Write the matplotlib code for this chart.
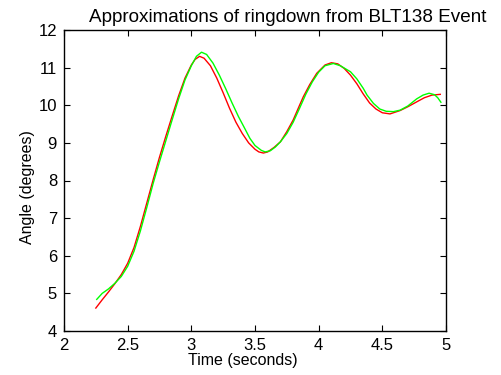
import matplotlib
matplotlib.use('Agg')
import matplotlib.pyplot as plt

plt.rcParams['font.family'] = ['Liberation Sans', 'DejaVu Sans']

# red approximation (time in s, angle in degrees)
t_red = [2.25, 2.30, 2.35, 2.40, 2.45, 2.50, 2.55, 2.60, 2.65, 2.70, 2.75, 2.80, 2.85,
         2.90, 2.95, 3.00, 3.03, 3.065, 3.10, 3.15, 3.20, 3.25, 3.30, 3.35, 3.40, 3.45,
         3.50, 3.53, 3.566, 3.60, 3.65, 3.70, 3.75, 3.80, 3.85, 3.88, 3.93, 3.985,
         4.05, 4.10, 4.15, 4.20, 4.25, 4.30, 4.35, 4.40, 4.45, 4.50, 4.56, 4.64, 4.70,
         4.77, 4.83, 4.89, 4.955]
a_red = [4.61, 4.83, 5.04, 5.26, 5.50, 5.80, 6.22, 6.78, 7.40, 8.02, 8.62, 9.18, 9.72,
         10.25, 10.72, 11.07, 11.22, 11.30, 11.25, 11.05, 10.72, 10.33, 9.92, 9.55, 9.25, 9.00,
         8.83, 8.76, 8.73, 8.76, 8.88, 9.03, 9.30, 9.61, 10.00, 10.23, 10.55, 10.85,
         11.07, 11.13, 11.10, 10.98, 10.80, 10.57, 10.30, 10.06, 9.90, 9.80, 9.77, 9.86, 9.96,
         10.09, 10.20, 10.27, 10.29]

# green approximation
t_green = [2.257, 2.30, 2.35, 2.40, 2.45, 2.50, 2.55, 2.60, 2.65, 2.70, 2.75, 2.80, 2.85,
           2.90, 2.95, 3.00, 3.04, 3.08, 3.12, 3.17, 3.22, 3.27, 3.32, 3.37, 3.42, 3.46,
           3.50, 3.55, 3.58, 3.62, 3.66, 3.70, 3.75, 3.80, 3.85, 3.90, 3.95, 4.00, 4.05,
           4.115, 4.17, 4.22, 4.25, 4.30, 4.35, 4.38, 4.43, 4.48, 4.53, 4.587, 4.64, 4.70,
           4.77, 4.82, 4.867, 4.91, 4.935, 4.96]
a_green = [4.84, 5.00, 5.12, 5.27, 5.45, 5.72, 6.12, 6.66, 7.28, 7.92, 8.50, 9.06, 9.62,
           10.17, 10.67, 11.05, 11.30, 11.41, 11.35, 11.12, 10.80, 10.44, 10.06, 9.70, 9.38, 9.12,
           8.93, 8.80, 8.76, 8.79, 8.89, 9.03, 9.25, 9.55, 9.92, 10.30, 10.62, 10.88, 11.05,
           11.11, 11.05, 10.95, 10.89, 10.70, 10.45, 10.27, 10.05, 9.90, 9.84, 9.83, 9.87, 9.98,
           10.17, 10.27, 10.32, 10.28, 10.20, 10.08]

x_ticks = [2, 2.5, 3, 3.5, 4, 4.5, 5]
x_tick_labels = ['2', '2.5', '3', '3.5', '4', '4.5', '5']
y_ticks = [4, 5, 6, 7, 8, 9, 10, 11, 12]

W, H = 502, 375
fig = plt.figure(figsize=(W / 100, H / 100), dpi=100)
ax = fig.add_axes([64 / W, 1 - 331 / H, (446 - 64) / W, (331 - 30) / H])

ax.plot(t_red, a_red, color='#ff0000', lw=1.0)
ax.plot(t_green, a_green, color='#00ff00', lw=1.0)

ax.set_xlim(2, 5)
ax.set_ylim(4, 12)
ax.set_xticks(x_ticks)
ax.set_xticklabels(x_tick_labels)
ax.set_yticks(y_ticks)
ax.tick_params(direction='in', top=True, right=True, length=4, width=0.8,
               labelsize=12, pad=5)
for s in ax.spines.values():
    s.set_linewidth(1.0)

fig.text(288 / W, 1 - 22 / H, 'Approximations of ringdown from BLT138 Event',
         ha='center', va='baseline', fontsize=13.6)
fig.text(243 / W, 1 - 360 / H, 'Time (seconds)', ha='center', va='center', fontsize=11.5)
fig.text(28 / W, 1 - 187 / H, 'Angle (degrees)', ha='center', va='center',
         rotation=90, fontsize=11.5)

fig.savefig('out.png', dpi=100)
